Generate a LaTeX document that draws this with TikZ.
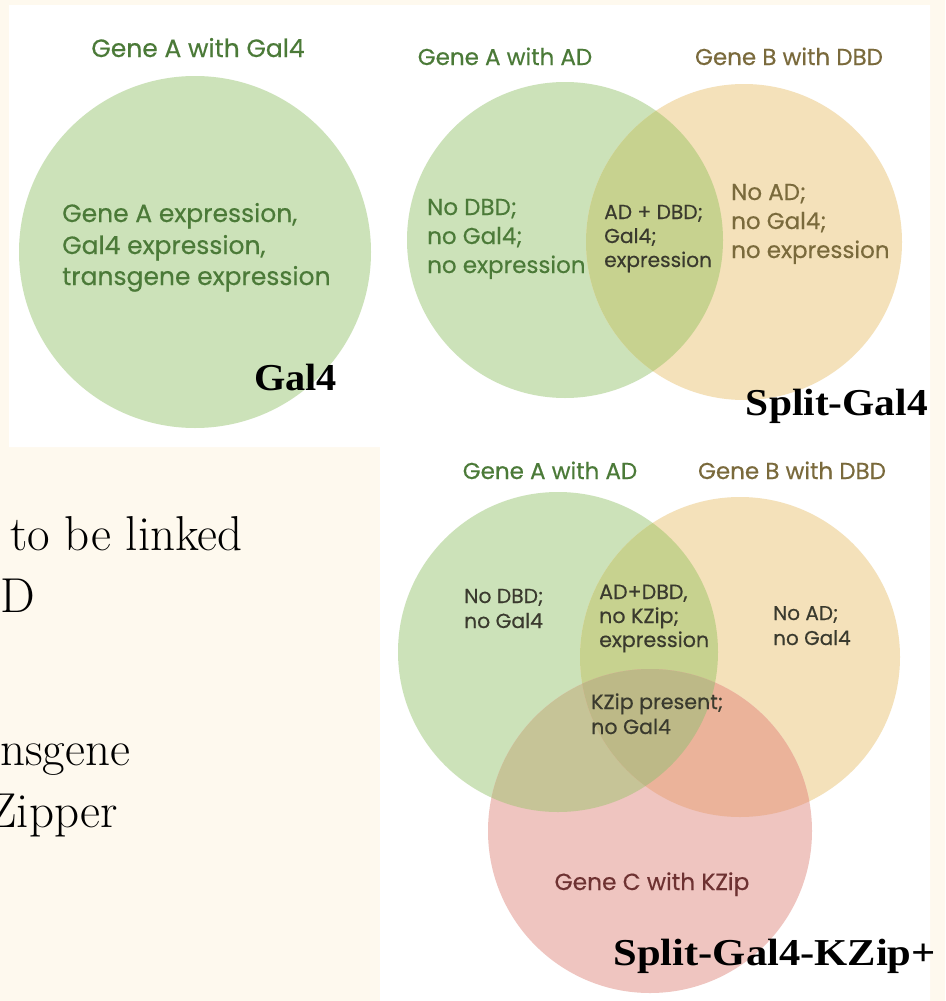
\documentclass[tikz,border=0pt]{standalone}
\usepackage{fontspec}
\newfontfamily\vennfont[FakeBold=0.4]{Poppins}
\newfontfamily\lblfont{Liberation Serif}
\definecolor{cream}{HTML}{FEF9EE}
\definecolor{cgreen}{HTML}{CCE2B9}
\definecolor{corange}{HTML}{F4E1BA}
\definecolor{cpink}{HTML}{EFC5C0}
\definecolor{cgo}{HTML}{C7D28F}
\definecolor{cgp}{HTML}{C6C497}
\definecolor{cop}{HTML}{EBB39A}
\definecolor{cgop}{HTML}{BDB987}
\definecolor{tgreen}{HTML}{4B7A38}
\definecolor{tolive}{HTML}{7A6A3C}
\definecolor{tdark}{HTML}{3A3A2E}
\definecolor{tred}{HTML}{6E3232}
\tikzset{
  vt/.style={inner sep=0pt, anchor=base west, align=left, font=\vennfont\fontsize{#1}{#1}\selectfont},
  vc/.style={inner sep=0pt, anchor=base, font=\vennfont\fontsize{#1}{#1}\selectfont},
  lbl/.style={inner sep=0pt, anchor=base east, font=\lblfont\bfseries\fontsize{38}{38}\selectfont},
  bg/.style={inner sep=0pt, anchor=base west, font=\fontsize{49}{49}\selectfont}
}
\begin{document}
\begin{tikzpicture}[x=1pt,y=-1pt]
\useasboundingbox (0,0) rectangle (945,1001);
\clip (0,0) rectangle (945,1001);
\fill[cream] (0,0) rectangle (945,1001);
\fill[white] (9,5) -- (930,5) -- (930,1001) -- (380,1001) -- (380,447) -- (9,447) -- cycle;

% ---- Gal4 ----
\fill[cgreen] (195,252) circle (176pt);
\node[vc=25, text=tgreen] (ga) at (198,57) {Gene A with Gal4};
\node[vt=25, text=tgreen] (gal1) at (62,222) {Gene A expression,};
\node[vt=25, text=tgreen] (gal2) at (62,254) {Gal4 expression,};
\node[vt=25, text=tgreen] (gal3) at (62,285) {transgene expression};
\node[lbl] (lgal) at (337,390) {\scalebox{1.06}[1]{Gal4}};

% ---- Split-Gal4 ----
\fill[cgreen] (565,240) circle (158pt);
\fill[corange] (744,242) circle (158pt);
\begin{scope}
  \clip (565,240) circle (158pt);
  \fill[cgo] (744,242) circle (158pt);
\end{scope}
\node[vc=23, text=tgreen] (sa) at (505,65) {Gene A with AD};
\node[vc=23, text=tolive] (sb) at (789,65) {Gene B with DBD};
\node[vt=23, text=tgreen] (s1a) at (427,215) {No DBD;};
\node[vt=23, text=tgreen] (s1b) at (427,244) {no Gal4;};
\node[vt=23, text=tgreen] (s1c) at (427,273) {no expression};
\node[vt=20.2, text=tdark] (s2a) at (604,219) {AD + DBD;};
\node[vt=20.2, text=tdark] (s2b) at (604,243) {Gal4;};
\node[vt=20.2, text=tdark] (s2c) at (604,267) {expression};
\node[vt=23, text=tolive] (s3a) at (731,200) {No AD;};
\node[vt=23, text=tolive] (s3b) at (731,229) {no Gal4;};
\node[vt=23, text=tolive] (s3c) at (731,258) {no expression};
\node[lbl] (lsplit) at (928,415) {\scalebox{1.09}[1]{Split-Gal4}};

% ---- Split-Gal4-KZip+ ----
\fill[cgreen] (558,652) circle (160pt);
\fill[corange] (740,657) circle (160pt);
\fill[cpink] (650,831) circle (162pt);
\begin{scope}
  \clip (558,652) circle (160pt);
  \fill[cgo] (740,657) circle (160pt);
\end{scope}
\begin{scope}
  \clip (558,652) circle (160pt);
  \fill[cgp] (650,831) circle (162pt);
\end{scope}
\begin{scope}
  \clip (740,657) circle (160pt);
  \fill[cop] (650,831) circle (162pt);
\end{scope}
\begin{scope}
  \clip (558,652) circle (160pt);
  \clip (740,657) circle (160pt);
  \fill[cgop] (650,831) circle (162pt);
\end{scope}
\node[vc=23, text=tgreen] (ka) at (550,479) {Gene A with AD};
\node[vc=23, text=tolive] (kb) at (792,479) {Gene B with DBD};
\node[vt=20.3, text=tdark] (k1a) at (464,603) {No DBD;};
\node[vt=20.3, text=tdark] (k1b) at (464,628) {no Gal4};
\node[vt=20.6, text=tdark] (k2a) at (599,599) {AD+DBD,};
\node[vt=20.6, text=tdark] (k2b) at (599,623) {no KZip;};
\node[vt=20.6, text=tdark] (k2c) at (599,647) {expression};
\node[vt=20, text=tdark] (k3a) at (773,620) {No AD;};
\node[vt=20, text=tdark] (k3b) at (773,645) {no Gal4};
\node[vt=20.6, text=tdark] (k4a) at (591,709) {KZip present;};
\node[vt=20.6, text=tdark] (k4b) at (591,734) {no Gal4};
\node[vc=23.3, text=tred] (kc) at (652,890) {Gene C with KZip};
\node[lbl] (lkzip) at (936,965) {\scalebox{1.12}[1]{Split-Gal4-KZip+}};

% ---- cut-off text at left ----
\node[bg] (t1) at (10,550) {to be linked};
\node[bg] (t2) at (0,612) {D};
\node[bg] (t3) at (0,765) {nsgene};
\node[bg, anchor=base east] (t4) at (118,827) {Zipper};
\end{tikzpicture}
\end{document}
